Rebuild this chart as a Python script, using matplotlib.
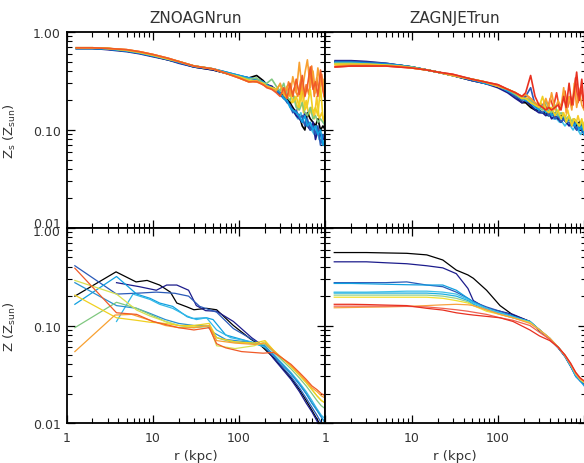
import matplotlib
matplotlib.use('Agg')
import matplotlib.pyplot as plt
from matplotlib.ticker import LogLocator, FixedLocator, FixedFormatter, NullFormatter

plt.rcParams['font.family'] = ['DejaVu Sans']

# ---------------- data ----------------
titles = ['ZNOAGNrun', 'ZAGNJETrun']
ylabels = ['Z$_{\\rm s}$ (Z$_{\\rm sun}$)', 'Z (Z$_{\\rm sun}$)']

# top panels: inner (smooth) radii + outer (noisy) radii, kpc
r_in = [1.3, 2, 3, 5, 7, 10, 15, 20, 30, 50, 70, 100, 130, 160, 190]
r_out = [210, 240, 270, 300, 330, 360, 390, 420, 460, 500, 540, 580, 620, 670,
         720, 770, 820, 880, 940, 1000]
r_out2 = [225, 255, 285, 315, 345, 375, 405, 440, 480, 520, 560, 600, 645, 695,
          745, 795, 850, 910, 970, 1000]

tl_colors = ['#000000', '#1c1c8c', '#2a5ab8', '#10a0e0', '#80c880', '#f0d020',
             '#f8a030', '#f05a28']
tl_in = [
    [0.68, 0.68, 0.67, 0.64, 0.61, 0.57, 0.52, 0.49, 0.44, 0.41, 0.38, 0.35, 0.34, 0.36, 0.32],
    [0.68, 0.68, 0.66, 0.63, 0.60, 0.56, 0.52, 0.48, 0.44, 0.41, 0.38, 0.35, 0.34, 0.33, 0.31],
    [0.68, 0.68, 0.67, 0.64, 0.61, 0.57, 0.52, 0.49, 0.44, 0.42, 0.39, 0.36, 0.34, 0.33, 0.31],
    [0.68, 0.68, 0.67, 0.64, 0.61, 0.57, 0.53, 0.49, 0.45, 0.42, 0.39, 0.36, 0.34, 0.33, 0.31],
    [0.69, 0.69, 0.68, 0.65, 0.62, 0.58, 0.53, 0.50, 0.45, 0.42, 0.38, 0.35, 0.33, 0.34, 0.30],
    [0.69, 0.69, 0.68, 0.65, 0.62, 0.58, 0.53, 0.50, 0.45, 0.42, 0.38, 0.35, 0.32, 0.31, 0.30],
    [0.69, 0.69, 0.68, 0.66, 0.63, 0.59, 0.54, 0.50, 0.45, 0.42, 0.38, 0.34, 0.31, 0.32, 0.29],
    [0.69, 0.69, 0.68, 0.66, 0.63, 0.59, 0.54, 0.50, 0.45, 0.42, 0.38, 0.34, 0.31, 0.31, 0.29],
]
tl_out = [
    [0.29, 0.27, 0.26, 0.24, 0.22, 0.21, 0.19, 0.17, 0.15, 0.14, 0.11, 0.10, 0.15, 0.13, 0.12, 0.11, 0.13, 0.10, 0.11, 0.10],
    [0.29, 0.28, 0.25, 0.23, 0.21, 0.20, 0.18, 0.16, 0.14, 0.13, 0.12, 0.15, 0.11, 0.10, 0.12, 0.08, 0.10, 0.09, 0.08, 0.09],
    [0.28, 0.27, 0.25, 0.23, 0.22, 0.19, 0.18, 0.15, 0.16, 0.13, 0.14, 0.11, 0.13, 0.10, 0.11, 0.09, 0.11, 0.07, 0.09, 0.08],
    [0.29, 0.27, 0.26, 0.24, 0.21, 0.20, 0.17, 0.16, 0.15, 0.14, 0.12, 0.14, 0.11, 0.12, 0.10, 0.11, 0.09, 0.10, 0.07, 0.08],
    [0.30, 0.33, 0.28, 0.25, 0.30, 0.22, 0.20, 0.24, 0.17, 0.16, 0.19, 0.15, 0.14, 0.17, 0.13, 0.14, 0.12, 0.13, 0.12, 0.11],
    [0.28, 0.27, 0.26, 0.29, 0.23, 0.21, 0.26, 0.19, 0.22, 0.17, 0.30, 0.16, 0.18, 0.26, 0.15, 0.17, 0.14, 0.28, 0.13, 0.14],
    [0.28, 0.26, 0.25, 0.30, 0.23, 0.28, 0.22, 0.35, 0.24, 0.49, 0.25, 0.38, 0.52, 0.27, 0.40, 0.24, 0.43, 0.28, 0.33, 0.18],
    [0.27, 0.26, 0.24, 0.22, 0.27, 0.21, 0.30, 0.22, 0.33, 0.23, 0.36, 0.22, 0.28, 0.44, 0.26, 0.31, 0.22, 0.41, 0.25, 0.20],
]
# extra top-left snapshots sampled on r_out2
tl_colors2 = ['#40c0e8', '#f8c828', '#f88028']
tl_in2 = [
    [0.68, 0.68, 0.67, 0.64, 0.61, 0.57, 0.53, 0.49, 0.45, 0.42, 0.39, 0.36, 0.34, 0.33, 0.31],
    [0.69, 0.69, 0.68, 0.65, 0.62, 0.58, 0.53, 0.50, 0.45, 0.42, 0.38, 0.35, 0.32, 0.31, 0.30],
    [0.69, 0.69, 0.68, 0.66, 0.63, 0.59, 0.54, 0.50, 0.45, 0.42, 0.38, 0.34, 0.31, 0.32, 0.29],
]
tl_out2 = [
    [0.28, 0.26, 0.24, 0.22, 0.20, 0.19, 0.16, 0.15, 0.13, 0.15, 0.12, 0.11, 0.12, 0.10, 0.09, 0.11, 0.08, 0.09, 0.07, 0.08],
    [0.28, 0.27, 0.25, 0.23, 0.26, 0.20, 0.19, 0.22, 0.16, 0.25, 0.15, 0.20, 0.14, 0.17, 0.13, 0.22, 0.13, 0.15, 0.12, 0.13],
    [0.27, 0.26, 0.24, 0.27, 0.22, 0.31, 0.23, 0.27, 0.22, 0.33, 0.21, 0.29, 0.23, 0.45, 0.22, 0.34, 0.24, 0.37, 0.22, 0.25],
]

tr_colors = ['#000000', '#1c1c8c', '#2a5ab8', '#10a0e0', '#80c880', '#f0d020',
             '#f8a030', '#e83020']
tr_in = [
    [0.50, 0.50, 0.49, 0.47, 0.46, 0.44, 0.41, 0.39, 0.36, 0.32, 0.30, 0.28, 0.25, 0.22, 0.19],
    [0.51, 0.51, 0.50, 0.48, 0.46, 0.44, 0.41, 0.39, 0.36, 0.32, 0.30, 0.27, 0.24, 0.21, 0.19],
    [0.50, 0.50, 0.49, 0.48, 0.46, 0.44, 0.41, 0.39, 0.36, 0.32, 0.30, 0.28, 0.25, 0.22, 0.20],
    [0.49, 0.49, 0.48, 0.47, 0.46, 0.44, 0.41, 0.39, 0.36, 0.33, 0.30, 0.28, 0.25, 0.23, 0.21],
    [0.48, 0.48, 0.47, 0.46, 0.45, 0.44, 0.41, 0.39, 0.36, 0.33, 0.31, 0.28, 0.26, 0.23, 0.21],
    [0.47, 0.47, 0.47, 0.46, 0.45, 0.43, 0.41, 0.39, 0.36, 0.33, 0.31, 0.28, 0.26, 0.24, 0.21],
    [0.45, 0.46, 0.46, 0.45, 0.45, 0.43, 0.41, 0.39, 0.36, 0.33, 0.31, 0.28, 0.26, 0.24, 0.22],
    [0.44, 0.45, 0.45, 0.45, 0.44, 0.43, 0.41, 0.39, 0.37, 0.33, 0.31, 0.29, 0.26, 0.24, 0.22],
]
tr_out = [
    [0.19, 0.17, 0.16, 0.16, 0.15, 0.15, 0.14, 0.15, 0.14, 0.13, 0.14, 0.13, 0.12, 0.13, 0.12, 0.12, 0.11, 0.12, 0.11, 0.11],
    [0.20, 0.18, 0.16, 0.15, 0.15, 0.14, 0.15, 0.13, 0.14, 0.13, 0.12, 0.13, 0.12, 0.11, 0.12, 0.11, 0.10, 0.11, 0.10, 0.09],
    [0.22, 0.27, 0.18, 0.16, 0.15, 0.16, 0.14, 0.15, 0.13, 0.14, 0.12, 0.13, 0.12, 0.12, 0.11, 0.12, 0.10, 0.11, 0.10, 0.10],
    [0.20, 0.19, 0.17, 0.16, 0.18, 0.15, 0.16, 0.14, 0.15, 0.14, 0.13, 0.14, 0.12, 0.13, 0.12, 0.11, 0.12, 0.10, 0.11, 0.09],
    [0.21, 0.20, 0.18, 0.17, 0.16, 0.20, 0.16, 0.15, 0.18, 0.14, 0.15, 0.14, 0.13, 0.14, 0.12, 0.13, 0.12, 0.11, 0.12, 0.10],
    [0.21, 0.19, 0.18, 0.17, 0.22, 0.16, 0.15, 0.17, 0.14, 0.16, 0.13, 0.15, 0.12, 0.14, 0.11, 0.13, 0.12, 0.11, 0.13, 0.10],
    [0.23, 0.21, 0.19, 0.18, 0.17, 0.21, 0.17, 0.24, 0.16, 0.20, 0.17, 0.27, 0.15, 0.22, 0.16, 0.30, 0.17, 0.25, 0.18, 0.16],
    [0.24, 0.36, 0.22, 0.18, 0.17, 0.16, 0.17, 0.16, 0.17, 0.18, 0.16, 0.22, 0.17, 0.30, 0.18, 0.25, 0.39, 0.20, 0.33, 0.17],
]
tr_colors2 = ['#40c0e8', '#f8c828', '#f04028']
tr_in2 = [
    [0.49, 0.49, 0.48, 0.47, 0.46, 0.44, 0.41, 0.39, 0.36, 0.33, 0.30, 0.28, 0.25, 0.23, 0.21],
    [0.47, 0.47, 0.47, 0.46, 0.45, 0.43, 0.41, 0.39, 0.36, 0.33, 0.31, 0.28, 0.26, 0.24, 0.21],
    [0.44, 0.45, 0.45, 0.45, 0.44, 0.43, 0.41, 0.39, 0.37, 0.33, 0.31, 0.29, 0.26, 0.24, 0.22],
]
tr_out2 = [
    [0.19, 0.17, 0.16, 0.15, 0.15, 0.14, 0.14, 0.13, 0.13, 0.12, 0.12, 0.11, 0.12, 0.11, 0.10, 0.11, 0.10, 0.09, 0.10, 0.09],
    [0.21, 0.19, 0.17, 0.19, 0.16, 0.15, 0.17, 0.14, 0.16, 0.13, 0.15, 0.13, 0.16, 0.12, 0.13, 0.11, 0.14, 0.11, 0.12, 0.10],
    [0.22, 0.20, 0.18, 0.17, 0.19, 0.16, 0.21, 0.17, 0.24, 0.16, 0.19, 0.25, 0.17, 0.22, 0.18, 0.34, 0.19, 0.27, 0.21, 0.18],
]

# bottom left: each curve has its own radii
bl_colors = ['#000000', '#1c1c8c', '#2a5ab8', '#10a0e0', '#30b8e8', '#2890d0',
             '#80c880', '#d8e050', '#f0d020', '#f8a030', '#f05a28']
bl_r = [
    [1.25, 3.75, 6.4, 8.6, 12, 16, 19, 25, 30, 42, 55, 86, 135, 180, 250, 300, 400, 500, 600, 700, 800, 900, 1000],
    [3.8, 7, 11, 14.5, 19, 26, 32, 41, 55, 86, 140, 200, 250, 300, 400, 500, 600, 700, 800, 900, 1000],
    [1.25, 3.8, 7, 11, 18, 26, 35, 55, 86, 150, 200, 250, 300, 400, 500, 600, 700, 800, 900, 1000],
    [1.25, 3.8, 6.5, 9.3, 12, 17, 25, 29, 42, 50, 70, 120, 200, 250, 300, 400, 500, 600, 700, 800, 900, 1000],
    [3.8, 5.9, 9.3, 12, 17, 25, 32, 42, 55, 80, 140, 200, 250, 300, 400, 500, 600, 700, 800, 900, 1000],
    [1.25, 3.8, 6.5, 9.3, 14, 20, 30, 42, 50, 70, 120, 200, 250, 300, 400, 500, 600, 700, 800, 900, 1000],
    [1.25, 3.8, 6.5, 9.3, 14, 20, 30, 45, 55, 80, 130, 200, 250, 300, 400, 500, 600, 700, 800, 900, 1000],
    [1.25, 3.8, 6.5, 9.3, 14, 20, 30, 45, 55, 90, 150, 200, 250, 300, 400, 500, 600, 700, 800, 900, 1000],
    [1.25, 3.8, 6.5, 9.3, 14, 20, 30, 45, 55, 90, 150, 200, 250, 300, 400, 500, 600, 700, 800, 900, 1000],
    [1.25, 3.65, 5.7, 9.3, 14, 20, 30, 45, 55, 90, 150, 200, 250, 300, 400, 500, 600, 700, 800, 900, 1000],
    [1.25, 3.8, 6.5, 10, 20, 30, 45, 55, 70, 107, 190, 250, 300, 400, 500, 600, 700, 800, 900, 1000],
]
bl_z = [
    [0.20, 0.355, 0.28, 0.29, 0.26, 0.22, 0.17, 0.155, 0.145, 0.15, 0.145, 0.10, 0.073, 0.062, 0.047, 0.039, 0.029, 0.022, 0.017, 0.0135, 0.011, 0.0092, 0.008],
    [0.275, 0.25, 0.23, 0.26, 0.26, 0.23, 0.16, 0.142, 0.14, 0.11, 0.075, 0.06, 0.046, 0.038, 0.028, 0.021, 0.016, 0.013, 0.0105, 0.0088, 0.0075],
    [0.41, 0.21, 0.215, 0.22, 0.214, 0.20, 0.157, 0.137, 0.093, 0.07, 0.06, 0.049, 0.040, 0.030, 0.023, 0.018, 0.0145, 0.012, 0.010, 0.0088],
    [0.165, 0.318, 0.21, 0.19, 0.17, 0.157, 0.123, 0.118, 0.12, 0.115, 0.08, 0.07, 0.06, 0.050, 0.042, 0.032, 0.025, 0.020, 0.016, 0.0135, 0.0115, 0.010],
    [0.11, 0.21, 0.185, 0.165, 0.15, 0.125, 0.115, 0.12, 0.09, 0.075, 0.068, 0.06, 0.051, 0.043, 0.033, 0.026, 0.021, 0.017, 0.014, 0.012, 0.011],
    [0.275, 0.16, 0.15, 0.133, 0.115, 0.105, 0.10, 0.10, 0.085, 0.072, 0.068, 0.062, 0.050, 0.042, 0.032, 0.025, 0.020, 0.016, 0.0135, 0.0115, 0.010],
    [0.095, 0.173, 0.15, 0.13, 0.11, 0.10, 0.095, 0.098, 0.075, 0.068, 0.066, 0.064, 0.054, 0.046, 0.036, 0.029, 0.024, 0.020, 0.017, 0.015, 0.014],
    [0.29, 0.21, 0.144, 0.125, 0.11, 0.10, 0.097, 0.10, 0.062, 0.058, 0.062, 0.068, 0.056, 0.048, 0.038, 0.031, 0.026, 0.022, 0.019, 0.017, 0.016],
    [0.205, 0.12, 0.113, 0.108, 0.105, 0.10, 0.10, 0.105, 0.075, 0.068, 0.066, 0.07, 0.056, 0.048, 0.038, 0.031, 0.026, 0.022, 0.019, 0.017, 0.016],
    [0.054, 0.128, 0.13, 0.113, 0.10, 0.095, 0.095, 0.10, 0.07, 0.066, 0.064, 0.066, 0.055, 0.048, 0.039, 0.032, 0.027, 0.023, 0.021, 0.019, 0.018],
    [0.387, 0.135, 0.13, 0.11, 0.095, 0.09, 0.095, 0.065, 0.059, 0.054, 0.052, 0.053, 0.048, 0.040, 0.033, 0.028, 0.024, 0.022, 0.020, 0.019],
]

# bottom right: shared radii
br_r = [1.27, 2, 3, 5, 8.8, 15, 23, 33, 45, 52, 74, 106, 150, 235, 305, 400, 500,
        600, 700, 800, 900, 1000]
br_colors = ['#000000', '#1c1c8c', '#2a5ab8', '#10a0e0', '#40c0e8', '#20b0e0',
             '#90d090', '#f0e030', '#f8a040', '#f06050', '#e83020']
br_z = [
    [0.56, 0.56, 0.56, 0.555, 0.55, 0.53, 0.47, 0.37, 0.33, 0.305, 0.23, 0.16, 0.128, 0.11, 0.088, 0.073, 0.060, 0.049, 0.039, 0.031, 0.028, 0.026],
    [0.45, 0.45, 0.45, 0.44, 0.43, 0.41, 0.39, 0.34, 0.24, 0.18, 0.15, 0.14, 0.13, 0.11, 0.09, 0.073, 0.059, 0.048, 0.038, 0.031, 0.027, 0.025],
    [0.275, 0.275, 0.275, 0.275, 0.28, 0.26, 0.25, 0.22, 0.19, 0.175, 0.155, 0.14, 0.125, 0.11, 0.09, 0.072, 0.059, 0.048, 0.038, 0.030, 0.027, 0.025],
    [0.27, 0.27, 0.268, 0.265, 0.262, 0.26, 0.26, 0.23, 0.19, 0.175, 0.15, 0.135, 0.125, 0.108, 0.09, 0.073, 0.06, 0.048, 0.038, 0.030, 0.027, 0.024],
    [0.22, 0.22, 0.22, 0.222, 0.225, 0.225, 0.22, 0.21, 0.185, 0.17, 0.15, 0.135, 0.122, 0.11, 0.09, 0.074, 0.06, 0.049, 0.039, 0.031, 0.028, 0.026],
    [0.215, 0.215, 0.215, 0.215, 0.215, 0.215, 0.21, 0.20, 0.18, 0.165, 0.145, 0.132, 0.12, 0.11, 0.09, 0.074, 0.06, 0.049, 0.039, 0.032, 0.028, 0.026],
    [0.205, 0.205, 0.205, 0.205, 0.205, 0.205, 0.20, 0.19, 0.175, 0.16, 0.145, 0.13, 0.12, 0.108, 0.09, 0.074, 0.06, 0.049, 0.039, 0.032, 0.028, 0.026],
    [0.195, 0.195, 0.195, 0.195, 0.195, 0.195, 0.19, 0.18, 0.17, 0.16, 0.14, 0.13, 0.12, 0.107, 0.09, 0.074, 0.06, 0.049, 0.04, 0.032, 0.028, 0.026],
    [0.152, 0.153, 0.154, 0.155, 0.157, 0.16, 0.163, 0.165, 0.163, 0.16, 0.145, 0.13, 0.12, 0.105, 0.09, 0.074, 0.06, 0.05, 0.04, 0.032, 0.028, 0.027],
    [0.158, 0.158, 0.158, 0.158, 0.157, 0.155, 0.15, 0.145, 0.14, 0.137, 0.13, 0.12, 0.113, 0.10, 0.085, 0.072, 0.06, 0.049, 0.04, 0.033, 0.029, 0.027],
    [0.165, 0.165, 0.164, 0.162, 0.16, 0.15, 0.144, 0.135, 0.13, 0.128, 0.124, 0.12, 0.11, 0.09, 0.078, 0.070, 0.060, 0.05, 0.041, 0.033, 0.029, 0.027],
]

# ---------------- figure ----------------
fig = plt.figure(figsize=(5.84, 4.64), dpi=100)
W, H = 584.0, 464.0
x0, xm, x1 = 66.5, 325.3, 586.0
yt, ym, yb = 33.0, 229.0, 424.0
pw = xm - x0          # panel width in pixels (3 decades)
ph_b = yb - ym
ax_tl = fig.add_axes([x0 / W, 1 - ym / H, pw / W, (ym - yt) / H])
ax_tr = fig.add_axes([xm / W, 1 - ym / H, (x1 - xm) / W, (ym - yt) / H])
ax_bl = fig.add_axes([x0 / W, 1 - yb / H, pw / W, ph_b / H])
ax_br = fig.add_axes([xm / W, 1 - yb / H, (x1 - xm) / W, ph_b / H])

txt = '#333333'

for c, a, b in zip(tl_colors2, tl_in2, tl_out2):
    ax_tl.plot(r_in + r_out2, a + b, color=c, lw=1.2)
for c, a, b in zip(tl_colors, tl_in, tl_out):
    ax_tl.plot(r_in + r_out, a + b, color=c, lw=1.2)
for c, a, b in zip(tr_colors2, tr_in2, tr_out2):
    ax_tr.plot(r_in + r_out2, a + b, color=c, lw=1.2)
for c, a, b in zip(tr_colors, tr_in, tr_out):
    ax_tr.plot(r_in + r_out, a + b, color=c, lw=1.2)
for c, r, z in zip(bl_colors, bl_r, bl_z):
    ax_bl.plot(r, z, color=c, lw=0.9)
for c, z in zip(br_colors, br_z):
    ax_br.plot(br_r, z, color=c, lw=0.9)

for ax in (ax_tl, ax_tr, ax_bl, ax_br):
    ax.set_xscale('log')
    ax.set_yscale('log')
    ax.set_xlim(1, 1000)
    ax.set_ylim(0.01, 1.0)
    ax.tick_params(which='both', direction='in', top=True, right=True,
                   colors='black', labelcolor=txt, labelsize=9)
    ax.tick_params(which='major', length=6, width=0.9)
    ax.tick_params(which='minor', length=3.5, width=0.8)
    ax.xaxis.set_minor_locator(LogLocator(base=10, subs=range(2, 10)))
    ax.yaxis.set_minor_locator(LogLocator(base=10, subs=range(2, 10)))
    ax.xaxis.set_minor_formatter(NullFormatter())
    ax.yaxis.set_minor_formatter(NullFormatter())
    ax.xaxis.set_major_locator(FixedLocator([1, 10, 100, 1000]))
    ax.yaxis.set_major_locator(FixedLocator([0.01, 0.1, 1.0]))
    for s in ax.spines.values():
        s.set_linewidth(1.3)

# right panels run a touch past the image edge: keep the same decade size
for ax in (ax_tr, ax_br):
    ax.set_xlim(1, 10 ** (3 * (x1 - xm) / pw))
    ax.yaxis.set_major_formatter(NullFormatter())

# y labels; the 0.01 / 1.00 pair at the joint is nudged apart like the original
ax_tl.yaxis.set_major_formatter(FixedFormatter(['', '0.10', '1.00']))
ax_bl.yaxis.set_major_formatter(FixedFormatter(['0.01', '0.10', '']))
ax_tl.annotate('0.01', xy=(0, 0.01), xycoords=ax_tl.get_yaxis_transform(),
               xytext=(-4, 3), textcoords='offset points', ha='right',
               va='center', fontsize=9, color=txt)
ax_bl.annotate('1.00', xy=(0, 1.0), xycoords=ax_bl.get_yaxis_transform(),
               xytext=(-4, -2.5), textcoords='offset points', ha='right',
               va='center', fontsize=9, color=txt)
ax_tl.tick_params(axis='y', pad=4)
ax_bl.tick_params(axis='y', pad=4)

for ax in (ax_tl, ax_tr):
    ax.xaxis.set_major_formatter(NullFormatter())
ax_bl.xaxis.set_major_formatter(FixedFormatter(['1', '10', '100', '']))
ax_br.xaxis.set_major_formatter(FixedFormatter(['1', '10', '100', '']))
ax_bl.tick_params(axis='x', pad=6)
ax_br.tick_params(axis='x', pad=6)

ax_tl.set_title(titles[0], fontsize=11, color=txt, pad=7)
ax_tr.set_title(titles[1], fontsize=11, color=txt, pad=7,
                x=(pw / 2) / (x1 - xm))
ax_tl.set_ylabel(ylabels[0], fontsize=9.5, color=txt)
ax_bl.set_ylabel(ylabels[1], fontsize=9.5, color=txt)
ax_tl.yaxis.set_label_coords(-(x0 - 18) / pw, 0.5)
ax_bl.yaxis.set_label_coords(-(x0 - 18) / pw, 0.5)
for ax, w in ((ax_bl, pw), (ax_br, x1 - xm)):
    ax.set_xlabel('r (kpc)', fontsize=9.5, color=txt)
    ax.xaxis.label.set_va('center')
    ax.xaxis.set_label_coords((pw / 2) / w, -(456.5 - yb) / ph_b)

fig.savefig('out.png', dpi=100)
